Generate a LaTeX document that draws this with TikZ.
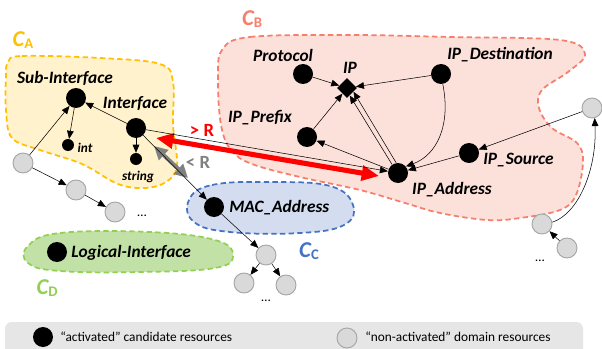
\documentclass[tikz,border=0pt]{standalone}
\usepackage{fontspec}
\setmainfont{Carlito}
\usetikzlibrary{arrows.meta,shapes.geometric}
\definecolor{gelbrand}{HTML}{FFC000}
\definecolor{gelbfill}{HTML}{FFF2CC}
\definecolor{rotrand}{HTML}{F77E6C}
\definecolor{rotfill}{HTML}{FCE0DA}
\definecolor{blaurand}{HTML}{4472C4}
\definecolor{blaufill}{HTML}{D3DDEF}
\definecolor{gruenrand}{HTML}{92D050}
\definecolor{gruenfill}{HTML}{C2E1A6}
\definecolor{grau}{HTML}{D9D9D9}
\definecolor{graurand}{HTML}{A6A6A6}
\definecolor{legende}{HTML}{E7E6E6}
\newcommand{\clab}[1]{{\fontsize{17}{19}\selectfont\bfseries\itshape C}\raisebox{-0.35ex}{\fontsize{11}{12}\selectfont\bfseries #1}}
\tikzset{
	act/.style={circle, fill=black, inner sep=0pt, minimum size=15pt},
	sml/.style={circle, fill=black, inner sep=0pt, minimum size=9pt},
	inact/.style={circle, fill=grau, draw=graurand, line width=0.7pt, inner sep=0pt, minimum size=15pt},
	lbl/.style={font=\fontsize{13}{15}\selectfont\bfseries\itshape, inner sep=0pt},
	klein/.style={font=\fontsize{10}{12}\selectfont\bfseries\itshape, inner sep=0pt},
	pf/.style={-{Triangle[length=6pt,width=5pt]}, line width=0.4pt},
	blob/.style={dashed, line width=1.3pt, dash pattern=on 4pt off 2.5pt},
	legtxt/.style={anchor=west, font=\fontsize{10}{12}\selectfont, inner sep=0pt},
}
\begin{document}
\begin{tikzpicture}[x=0.75pt, y=-0.75pt]
	\clip (0,0) rectangle (602,349);
	\fill[white] (0,0) rectangle (602,349);
	\draw[blob, draw=gelbrand, fill=gelbfill] plot[smooth cycle, tension=0.6] coordinates {(8,62) (22,56) (100,58) (160,64) (173,82) (173,125) (177,166) (166,182) (145,188) (118,184) (82,164) (40,150) (12,138) (6,110) (6,75)};
	\draw[blob, draw=rotrand, fill=rotfill] plot[smooth cycle, tension=0.6] coordinates {(222,50) (250,37) (350,35) (450,37) (560,40) (585,54) (568,72) (542,90) (539,108) (552,128) (577,143) (583,162) (576,195) (560,210) (520,218) (487,220) (440,213) (405,203) (360,190) (300,177) (252,164) (231,150) (221,125) (218,80)};
	\draw[blob, draw=blaurand, fill=blaufill] plot[smooth cycle, tension=0.7] coordinates {(189,200) (212,185) (270,182) (330,186) (353,205) (344,225) (300,233) (230,232) (194,222)};
	\draw[blob, draw=gruenrand, fill=gruenfill] plot[smooth cycle, tension=0.7] coordinates {(28,246) (60,233) (150,232) (215,240) (233,255) (215,268) (140,272) (60,271) (28,263)};
	\node (ca) at (23,40) {\color{gelbrand}\clab{A}};
	\node (cb) at (252,19) {\color{rotrand}\clab{B}};
	\node (cc) at (309,251) {\color{blaurand}\clab{C}};
	\node (cd) at (47,288) {\color{gruenrand}\clab{D}};
	\draw[fill=legende, draw=none, rounded corners=5pt] (5,322) rectangle (583,360);
	\node[act] (legact) at (43,337) {};
	\node[legtxt] (legacttxt) at (60,337) {``activated'' candidate resources};
	\node[inact] (leginact) at (347,338) {};
	\node[legtxt] (leginacttxt) at (365,337) {``non-activated'' domain resources};
	\node[act] (subint) at (76,98) {};
	\node[act] (iface) at (136,128) {};
	\node[sml] (int) at (68,145) {};
	\node[sml] (str) at (136,159) {};
	\node[lbl] (lsubint) at (65,78) {Sub-Interface};
	\node[lbl] (liface) at (135,103) {Interface};
	\node[klein] (lint) at (85,148) {int};
	\node[klein] (lstr) at (138,177) {string};
	\node[inact] (ga1) at (23,163) {};
	\node[inact] (ga2) at (76,190) {};
	\node[inact] (ga3) at (115,212) {};
	\node (dotsa) at (142,216) {\ldots};
	\node[act] (mac) at (214,207) {};
	\node[lbl, anchor=west] (lmac) at (229,208) {MAC\_Address};
	\node[inact] (gc1) at (266,255) {};
	\node[inact] (gc2) at (244,283) {};
	\node[inact] (gc3) at (286,285) {};
	\node (dotsc) at (266,301) {\ldots};
	\node[act] (logint) at (57,252) {};
	\node[lbl, anchor=west] (llogint) at (71,253) {Logical-Interface};
	\node[act] (proto) at (303,74) {};
	\node[diamond, fill=black, inner sep=0pt, minimum size=15pt] (ip) at (347,88) {};
	\node[act] (ipdest) at (441,74) {};
	\node[act] (ippre) at (307,137) {};
	\node[act] (ipsrc) at (469,153) {};
	\node[act] (ipaddr) at (398,173) {};
	\node[lbl] (lproto) at (283,55) {Protocol};
	\node[lbl] (lip) at (350,68) {IP};
	\node[lbl] (lipdest) at (500,55) {IP\_Destination};
	\node[lbl] (lippre) at (260,118) {IP\_Prefix};
	\node[lbl, anchor=west] (lipsrc) at (483,160) {IP\_Source};
	\node[lbl] (lipaddr) at (452,190) {IP\_Address};
	\node[inact] (gb1) at (592,108) {};
	\node[inact] (gb2) at (542,224) {};
	\node[inact] (gb3) at (567,248) {};
	\node (dotsb) at (540,261) {\ldots};
	\draw[red, line width=3.8pt, {Triangle[length=13pt,width=11pt]}-{Triangle[length=13pt,width=11pt]}] (156,138) -- (379,176);
	\draw[gray, line width=3pt, {Triangle[length=10pt,width=10pt]}-{Triangle[length=10pt,width=10pt]}] (154,146) -- (188,178);
	\node[font=\fontsize{14}{16}\selectfont\bfseries, text=red] (gr) at (202,130) {> R};
	\node[font=\fontsize{14}{16}\selectfont\bfseries, text=gray] (kl) at (198,162) {< R};
	\draw[pf] (subint) -- (int);
	\draw[pf] (iface) -- (str);
	\draw[pf] (iface) -- (subint);
	\draw[pf] (ga1) -- (subint);
	\draw[pf] (ga1) -- (ga2);
	\draw[pf] (ga2) -- (ga3);
	\draw[pf] (iface) -- (mac);
	\draw[pf] (iface) -- (ipaddr);
	\draw[pf] (mac) -- (gc1);
	\draw[pf] (gc1) -- (gc2);
	\draw[pf] (gc1) -- (gc3);
	\draw[pf] (proto) -- (ip);
	\draw[pf] (ipdest) -- (ip);
	\draw[pf] (ippre) -- (ip);
	\draw[pf] (ipaddr.125) -- (ip.-70);
	\draw[pf] (ipaddr.100) -- (ip.-30);
	\draw[pf] (ipaddr) -- (ippre);
	\draw[pf] (ipdest.-80) .. controls (451,125) and (437,155) .. (ipaddr.40);
	\draw[pf] (ipsrc) -- (ipaddr);
	\draw[pf] (gb1) -- (ipsrc);
	\draw[pf] (gb2.10) .. controls (578,214) and (597,170) .. (gb1.-75);
	\draw[pf] (gb3) -- (gb2);
\end{tikzpicture}
\end{document}
